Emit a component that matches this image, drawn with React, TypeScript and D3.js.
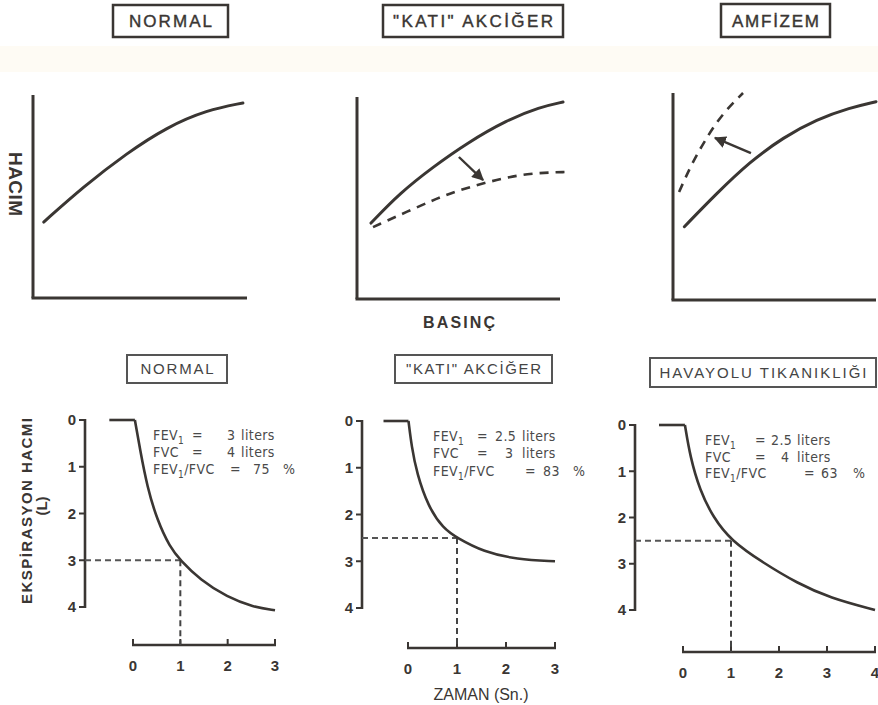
import React from "react";
import * as d3 from "d3";

// ---------- DATA ----------
// Top row: pressure (BASINÇ) vs volume (HACIM), arbitrary 0..10 units
const topTitles = ["NORMAL", "\"KATI\" AKCİĞER", "AMFİZEM"];
const normalPV: [number, number][] = [[0.5, 3.74], [2.34, 5.47], [4.39, 7.14], [6.26, 8.42], [8.13, 9.26], [9.81, 9.61]];
const stiffRefPV: [number, number][] = [[0.69, 3.76], [2.12, 5.25], [3.74, 6.53], [5.42, 7.72], [7.39, 8.86], [9.01, 9.5], [10.15, 9.75]];
const stiffPV: [number, number][] = [[0.79, 3.56], [2.96, 4.55], [4.58, 5.25], [6.4, 5.79], [8.37, 6.24], [10.49, 6.29]];
const emphRefPV: [number, number][] = [[0.56, 3.54], [2.15, 5.15], [3.79, 6.68], [5.44, 7.86], [7.08, 8.73], [8.72, 9.29], [10, 9.58]];
const emphPV: [number, number][] = [[0.3, 5.22], [0.94, 6.62], [1.67, 7.87], [2.46, 9.03], [3.45, 10]];
const stiffArrow: [number, number][] = [[5.02, 7.03], [6.21, 5.89]];
const emphArrow: [number, number][] = [[3.84, 7.1], [2.07, 7.83]];

// Bottom row: time (s) vs expired volume (L)
const bottomTitles = ["NORMAL", "\"KATI\" AKCİĞER", "HAVAYOLU TIKANIKLIĞI"];
const volumeTicks = [0, 1, 2, 3, 4];
const timeTicks = [[0, 1, 2, 3], [0, 1, 2, 3], [0, 1, 2, 3, 4]];
const timeMax = [3, 3, 4];
const flatStart = -0.5;
const normalSpiro: [number, number][] = [[0.04, 0], [0.15, 0.64], [0.3, 1.43], [0.51, 2.14], [0.78, 2.72], [1, 3], [1.42, 3.42], [1.99, 3.79], [2.54, 4.0], [3, 4.07]];
const stiffSpiro: [number, number][] = [[0.01, 0], [0.075, 0.55], [0.18, 1.12], [0.41, 1.83], [0.72, 2.3], [1, 2.5], [1.54, 2.8], [2.22, 2.96], [3, 3.0]];
const obstructSpiro: [number, number][] = [[0.04, 0], [0.15, 0.69], [0.35, 1.41], [0.63, 2.0], [1, 2.5], [1.67, 2.98], [2.38, 3.42], [3.06, 3.74], [4, 4.0]];
const fev1Values = [3, 2.5, 2.5];
const fev1Text = ["3", "2.5", "2.5"];
const fvcText = ["4", "3", "4"];
const ratioText = ["75", "83", "63"];

// ---------- LAYOUT ----------
const INK = "#3a3633";
const FONT = "'Liberation Sans', Arial, sans-serif";
const NARROW = "'Liberation Sans Narrow', 'DejaVu Sans Condensed', 'Liberation Sans', Arial, sans-serif";

const topPanels = [
  { x0: 33, x1: 247, yTop: 95, yBot: 298 },
  { x0: 357, x1: 560, yTop: 97, yBot: 299 },
  { x0: 673, x1: 876, yTop: 93, yBot: 300 },
];
const topBoxes = [
  { x: 113, y: 5, w: 115, h: 32, tw: 83 },
  { x: 383, y: 5, w: 180, h: 32, tw: 160 },
  { x: 721, y: 4, w: 109, h: 33, tw: 87 },
];
const bottomPanels = [
  { ax: 85, yA: 420, yB: 607, xa0: 133, xa1: 275, xy: 645 },
  { ax: 362, yA: 421, yB: 608, xa0: 408, xa1: 555, xy: 648 },
  { ax: 635, yA: 425, yB: 610, xa0: 683, xa1: 875, xy: 652 },
];
const bottomBoxes = [
  { x: 127, y: 355, w: 100, h: 28, tw: 73 },
  { x: 395, y: 355, w: 157, h: 28, tw: 135 },
  { x: 650, y: 358, w: 226, h: 29, tw: 207 },
];
const annot = [
  { x0: 153, ys: [440, 457, 474], eq: 39, val: 74, unit: 88, eq3: 77, val3: 100, pct: 130 },
  { x0: 433, ys: [441, 458, 476], eq: 44, val: 62, unit: 89, eq3: 92, val3: 110, pct: 140 },
  { x0: 705, ys: [445, 462, 478], eq: 50, val: 66, unit: 92, eq3: 99, val3: 116, pct: 148 },
];

function TopPanel({ i }: { i: number }) {
  const p = topPanels[i];
  const x = d3.scaleLinear().domain([0, 10]).range([p.x0, p.x1]);
  const y = d3.scaleLinear().domain([0, 10]).range([p.yBot, p.yTop]);
  const line = d3.line<[number, number]>().x(d => x(d[0])).y(d => y(d[1])).curve(d3.curveBasis);
  const solid = i === 0 ? normalPV : i === 1 ? stiffRefPV : emphRefPV;
  const dashed = i === 1 ? stiffPV : i === 2 ? emphPV : null;
  const arrow = i === 1 ? stiffArrow : i === 2 ? emphArrow : null;
  return (
    <g>
      <line x1={p.x0} y1={p.yTop} x2={p.x0} y2={p.yBot} stroke={INK} strokeWidth={3} />
      <line x1={p.x0 - 1.5} y1={p.yBot} x2={p.x1} y2={p.yBot} stroke={INK} strokeWidth={3} />
      <path d={line(solid) || ""} fill="none" stroke={INK} strokeWidth={3} strokeLinecap="round" />
      {dashed && (
        <path d={line(dashed) || ""} fill="none" stroke={INK} strokeWidth={2.6} strokeDasharray="9,7" />
      )}
      {arrow && (
        <line x1={x(arrow[0][0])} y1={y(arrow[0][1])} x2={x(arrow[1][0])} y2={y(arrow[1][1])}
          stroke={INK} strokeWidth={2.4} markerEnd="url(#ah)" />
      )}
    </g>
  );
}

function BottomPanel({ i }: { i: number }) {
  const p = bottomPanels[i];
  const x = d3.scaleLinear().domain([0, timeMax[i]]).range([p.xa0, p.xa1]);
  const y = d3.scaleLinear().domain([0, 4]).range([p.yA, p.yB]);
  const data = i === 0 ? normalSpiro : i === 1 ? stiffSpiro : obstructSpiro;
  const line = d3.line<[number, number]>().x(d => x(d[0])).y(d => y(d[1])).curve(d3.curveBasis);
  const fev = fev1Values[i];
  const a = annot[i];
  const lineStyle = { fontFamily: NARROW, fontSize: 14, fill: "#4a4a4a", letterSpacing: 0.4 } as const;
  return (
    <g>
      {/* y axis */}
      <line x1={p.ax} y1={y(0) - 1} x2={p.ax} y2={y(4) + 1} stroke={INK} strokeWidth={2.6} />
      {volumeTicks.map(t => (
        <g key={t}>
          <line x1={p.ax - 6} x2={p.ax} y1={y(t)} y2={y(t)} stroke={INK} strokeWidth={2} />
          <text x={p.ax - 9} y={y(t)} dy="0.36em" textAnchor="end" fontFamily={FONT} fontWeight="bold" fontSize={15} fill={INK}>{t}</text>
        </g>
      ))}
      {/* x axis */}
      <line x1={x(0) - 1} y1={p.xy} x2={x(timeMax[i]) + 1} y2={p.xy} stroke={INK} strokeWidth={2.6} />
      {timeTicks[i].map(t => (
        <g key={t}>
          <line x1={x(t)} x2={x(t)} y1={p.xy} y2={p.xy - 6} stroke={INK} strokeWidth={2} />
          <text x={x(t)} y={p.xy + 26} textAnchor="middle" fontFamily={FONT} fontWeight="bold" fontSize={15} fill={INK}>{t}</text>
        </g>
      ))}
      {/* dashed FEV1 guides */}
      <line x1={p.ax} x2={x(1)} y1={y(fev)} y2={y(fev)} stroke="#555" strokeWidth={2} strokeDasharray="6,4" />
      <line x1={x(1)} x2={x(1)} y1={y(fev)} y2={p.xy} stroke="#444" strokeWidth={2} strokeDasharray="6,4" />
      {/* curve */}
      <line x1={x(flatStart)} x2={x(data[0][0])} y1={y(0)} y2={y(0)} stroke={INK} strokeWidth={2.6} />
      <path d={line(data) || ""} fill="none" stroke={INK} strokeWidth={2.6} />
      {/* annotation */}
      <g {...lineStyle}>
        <text x={a.x0} y={a.ys[0]}>FEV<tspan fontSize={10} dy={4}>1</tspan></text>
        <text x={a.x0 + a.eq} y={a.ys[0]}>=</text>
        <text x={a.x0 + a.val} y={a.ys[0]}>{fev1Text[i]}</text>
        <text x={a.x0 + a.unit} y={a.ys[0]}>liters</text>
        <text x={a.x0} y={a.ys[1]}>FVC</text>
        <text x={a.x0 + a.eq} y={a.ys[1]}>=</text>
        <text x={a.x0 + a.val + (fvcText[i].length === 1 && fev1Text[i].length > 1 ? 10 : 0)} y={a.ys[1]}>{fvcText[i]}</text>
        <text x={a.x0 + a.unit} y={a.ys[1]}>liters</text>
        <text x={a.x0} y={a.ys[2]}>FEV<tspan fontSize={10} dy={4}>1</tspan><tspan dy={-4}>/FVC</tspan></text>
        <text x={a.x0 + a.eq3} y={a.ys[2]}>=</text>
        <text x={a.x0 + a.val3} y={a.ys[2]}>{ratioText[i]}</text>
        <text x={a.x0 + a.pct} y={a.ys[2]}>%</text>
      </g>
    </g>
  );
}

export default function App() {
  return (
    <svg width={878} height={705} viewBox="0 0 878 705"
      style={{ position: "absolute", left: 0, top: 0, background: "#ffffff" }}>
      <defs>
        <marker id="ah" viewBox="0 0 10 10" refX={9} refY={5} markerWidth={12} markerHeight={12}
          markerUnits="userSpaceOnUse" orient="auto">
          <path d="M0,0 L10,5 L0,10 z" fill={INK} />
        </marker>
      </defs>
      <rect x={0} y={0} width={878} height={705} fill="#fff" />
      <rect x={0} y={46} width={878} height={26} fill="#fcf4e4" opacity={0.4} />

      {/* top titles */}
      {topBoxes.map((b, i) => (
        <g key={i}>
          <rect x={b.x} y={b.y} width={b.w} height={b.h} fill="#fff" stroke={INK} strokeWidth={2.5} />
          <text x={b.x + b.w / 2} y={b.y + b.h / 2} dy="0.36em" textAnchor="middle" fontFamily={FONT}
            fontSize={17} fill={INK} textLength={b.tw} lengthAdjust="spacing" stroke={INK} strokeWidth={0.4}>{topTitles[i]}</text>
        </g>
      ))}
      {[0, 1, 2].map(i => <TopPanel key={i} i={i} />)}
      <text transform="translate(9,184) rotate(90)" textAnchor="middle" fontFamily={FONT} fontWeight="bold"
        fontSize={19} fill={INK} textLength={64} lengthAdjust="spacing">HACIM</text>
      <text x={459} y={328} textAnchor="middle" fontFamily={FONT} fontWeight="bold" fontSize={16} fill={INK}
        textLength={72} lengthAdjust="spacing">BASINÇ</text>

      {/* bottom titles */}
      {bottomBoxes.map((b, i) => (
        <g key={i}>
          <rect x={b.x} y={b.y} width={b.w} height={b.h} fill="#fff" stroke="#555" strokeWidth={2} />
          <text x={b.x + b.w / 2} y={b.y + b.h / 2} dy="0.36em" textAnchor="middle" fontFamily={FONT}
            fontSize={15} fill="#444" textLength={b.tw} lengthAdjust="spacing">{bottomTitles[i]}</text>
        </g>
      ))}
      {[0, 1, 2].map(i => <BottomPanel key={i} i={i} />)}
      <text transform="translate(32,511) rotate(-90)" textAnchor="middle" fontFamily={FONT} fontWeight="bold"
        fontSize={15} fill={INK} textLength={186} lengthAdjust="spacing">EKSPİRASYON HACMI</text>
      <text transform="translate(47,506) rotate(-90)" textAnchor="middle" fontFamily={FONT} fontWeight="bold"
        fontSize={15} fill={INK}>(L)</text>
      <text x={481} y={700} textAnchor="middle" fontFamily={FONT} fontSize={16} fill={INK}
        textLength={95} lengthAdjust="spacing">ZAMAN (Sn.)</text>
    </svg>
  );
}
